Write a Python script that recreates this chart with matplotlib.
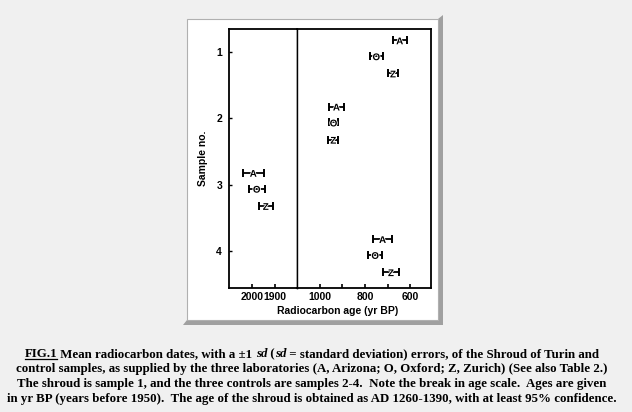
import matplotlib
matplotlib.use("Agg")
import matplotlib.pyplot as plt
import matplotlib.patheffects as pe
from matplotlib.patches import Rectangle, Polygon
from matplotlib.lines import Line2D

# ---- data ----
samples = [1, 2, 3, 4]
labs = ["A", "O", "Z"]
ages = {
    "A": [646, 927, 1995, 722],
    "O": [750, 940, 1980, 755],
    "Z": [676, 941, 1940, 685],
}
errs = {
    "A": [31, 32, 46, 43],
    "O": [30, 20, 35, 30],
    "Z": [24, 23, 30, 34],
}
left_ticks = [2000, 1900]
right_ticks = [1000, 900, 800, 700, 600]
right_labels = ["1000", "", "800", "", "600"]

caption_lines = [
    "control samples, as supplied by the three laboratories (A, Arizona; O, Oxford; Z, Zurich) (See also Table 2.)",
    "The shroud is sample 1, and the three controls are samples 2-4.  Note the break in age scale.  Ages are given",
    "in yr BP (years before 1950).  The age of the shroud is obtained as AD 1260-1390, with at least 95% confidence.",
]

W, H = 632, 412
fig = plt.figure(figsize=(W / 100, H / 100), dpi=100)
fig.patch.set_facecolor("#f0f0f0")

def fx(px):
    return px / W

def fy(py):
    return 1 - py / H

# white panel and shadow
shadow = Polygon([(fx(438), fy(19)), (fx(443), fy(15)), (fx(443), fy(325)),
                  (fx(183), fy(325)), (fx(187), fy(320)), (fx(438), fy(320))],
                 closed=True, transform=fig.transFigure, facecolor="#a0a0a0",
                 edgecolor="none", zorder=-2)
fig.patches.append(shadow)
panel = Rectangle((fx(187), fy(320)), fx(438) - fx(187), fy(19) - fy(320),
                  transform=fig.transFigure, facecolor="white",
                  edgecolor="#b0b0b0", linewidth=0.8, zorder=-1)
fig.patches.append(panel)

ax_l = 229
ax_b = 288
ax_t = 29
brk = 297
ax_r = 431
axL = fig.add_axes([fx(ax_l), fy(ax_b), fx(brk) - fx(ax_l), fy(ax_t) - fy(ax_b)])
axR = fig.add_axes([fx(brk), fy(ax_b), fx(ax_r) - fx(brk), fy(ax_t) - fy(ax_b)], sharey=axL)

offsets = {"A": -0.18, "O": 0.06, "Z": 0.32}
sans = "Liberation Sans"
halo = [pe.withStroke(linewidth=1.2, foreground="white")]

for ax in (axL, axR):
    for lab in labs:
        ys = [s + offsets[lab] for s in samples]
        ax.errorbar(ages[lab], ys, xerr=errs[lab], fmt="none", ecolor="black",
                    elinewidth=1.3, capsize=3, capthick=1.4, zorder=2)
        for a, y in zip(ages[lab], ys):
            ax.text(a, y, lab, ha="center", va="center_baseline", fontsize=7,
                    fontweight="bold", family=sans, zorder=3, clip_on=True,
                    path_effects=halo)
    for sp in ax.spines.values():
        sp.set_linewidth(1.3)
        sp.set_color("black")
    ax.set_facecolor("white")
    ax.tick_params(axis="x", direction="in", length=3, width=1.2, pad=3,
                   labelsize=7.5)

axL.set_xlim(2102, 1802)
axR.set_xlim(1102, 507)
axL.set_ylim(4.56, 0.65)
axL.set_xticks(left_ticks)
axL.set_xticklabels([str(v) for v in left_ticks], fontweight="bold", family=sans, fontsize=7.5)
axR.set_xticks(right_ticks)
axR.set_xticklabels(right_labels, fontweight="bold", family=sans, fontsize=7.5)
axL.set_yticks(samples)
axL.set_yticklabels([str(s) for s in samples], fontweight="bold", family=sans, fontsize=7.5)
axL.tick_params(axis="y", direction="in", length=2, width=1, pad=5)
axR.tick_params(axis="y", left=False, labelleft=False)
axR.spines["left"].set_linewidth(1.0)
axL.spines["right"].set_linewidth(1.0)
axL.set_ylabel("Sample no.", fontweight="bold", family=sans, fontsize=7.5, labelpad=6)
fig.text(fx(338), fy(311), "Radiocarbon age (yr BP)", ha="center", va="center",
         fontweight="bold", family=sans, fontsize=7.5)

# ---- caption ----
serif = "Liberation Serif"
cap_size = 9.3
cx = 312
renderer = fig.canvas.get_renderer()
line1 = [
    ("FIG.1", "normal", True),
    (" Mean radiocarbon dates, with a \u00b11 ", "normal", False),
    ("sd", "italic", False),
    (" (", "normal", False),
    ("sd", "italic", False),
    (" = standard deviation) errors, of the Shroud of Turin and", "normal", False),
]
y1 = fy(357)
pieces = []
total = 0
for s, style, ul in line1:
    t = fig.text(0, y1, s, ha="left", va="baseline", family=serif,
                 fontweight="bold", style=style, fontsize=cap_size)
    w = t.get_window_extent(renderer).width
    pieces.append((t, w, ul))
    total += w
x0 = cx - total / 2
for t, w, ul in pieces:
    t.set_x(fx(x0))
    if ul:
        fig.add_artist(Line2D([fx(x0), fx(x0 + w)], [y1 - 2.0 / H, y1 - 2.0 / H],
                              transform=fig.transFigure, color="black", lw=0.9))
    x0 += w
ys_cap = [372, 387, 402]
for s, yy in zip(caption_lines, ys_cap):
    fig.text(fx(cx), fy(yy), s, ha="center", va="baseline", family=serif,
             fontweight="bold", fontsize=cap_size)

fig.savefig("out.png", dpi=100, facecolor=fig.get_facecolor())
